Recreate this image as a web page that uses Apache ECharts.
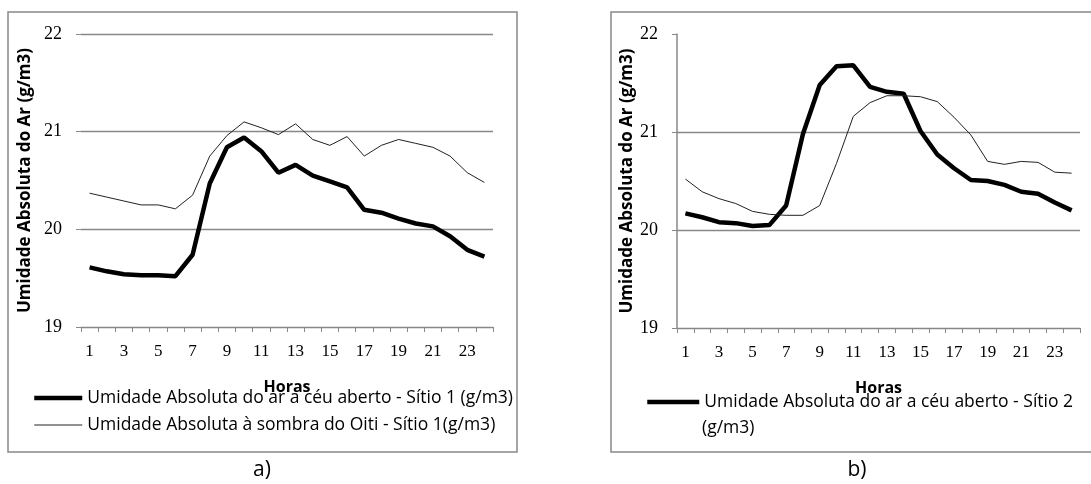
<!DOCTYPE html>
<html>
<head>
<meta charset="utf-8">
<script src="https://cdn.jsdelivr.net/npm/echarts@6/dist/echarts.min.js"></script>
<style>
  html, body { margin: 0; padding: 0; background: #fff; }
  #main { width: 1091px; height: 484px; }
</style>
</head>
<body>
<div id="main"></div>
<script>
// horas do dia
var horas = ['1', '2', '3', '4', '5', '6', '7', '8', '9', '10', '11', '12',
  '13', '14', '15', '16', '17', '18', '19', '20', '21', '22', '23', '24']

// a) Sitio 1
var nomeAberto1 = 'Umidade Absoluta do ar a céu aberto - Sítio 1 (g/m3)'
var nomeSombra1 = 'Umidade Absoluta à sombra do Oiti - Sítio 1(g/m3)'
var aberto1 = [19.61, 19.57, 19.54, 19.53, 19.53, 19.52, 19.74, 20.47, 20.84, 20.94, 20.80, 20.58,
  20.66, 20.55, 20.49, 20.43, 20.20, 20.17, 20.11, 20.06, 20.03, 19.93, 19.79, 19.72]
var sombra1 = [20.37, 20.33, 20.29, 20.25, 20.25, 20.21, 20.35, 20.75, 20.96, 21.10, 21.04, 20.97,
  21.08, 20.92, 20.86, 20.95, 20.75, 20.86, 20.92, 20.88, 20.84, 20.75, 20.58, 20.48]

// b) Sitio 2
var nomeAberto2 = 'Umidade Absoluta do ar a céu aberto - Sítio 2 (g/m3)'
var nomeSombra2 = 'Umidade Absoluta à sombra - Sítio 2 (g/m3)'
var aberto2 = [20.17, 20.13, 20.08, 20.07, 20.04, 20.05, 20.25, 20.98, 21.48, 21.67, 21.68, 21.46,
  21.41, 21.39, 21.01, 20.77, 20.63, 20.51, 20.50, 20.46, 20.39, 20.37, 20.28, 20.20]
var sombra2 = [20.52, 20.39, 20.32, 20.27, 20.19, 20.16, 20.15, 20.15, 20.25, 20.68, 21.16, 21.30,
  21.37, 21.37, 21.36, 21.31, 21.15, 20.97, 20.70, 20.67, 20.70, 20.69, 20.59, 20.58]

var tituloY = 'Umidade Absoluta do Ar (g/m3)'
var tituloX = 'Horas'
var unidade = '(g/m3)'

var cinza = '#888'
var fonteTexto = '"Open Sans", "Noto Sans", sans-serif'
var fonteNum = '"Liberation Serif", "DejaVu Serif", serif'

function eixoX(grid) {
  return {
    type: 'category',
    gridIndex: grid,
    data: horas,
    boundaryGap: true,
    name: tituloX,
    nameLocation: 'middle',
    nameGap: 52,
    nameTextStyle: { fontFamily: fonteTexto, fontWeight: 'bold', fontSize: 16, color: '#000' },
    axisLine: { lineStyle: { color: cinza, width: 1.2 } },
    axisTick: { show: true, interval: 0, length: 5, lineStyle: { color: cinza } },
    axisLabel: { interval: 1, margin: 16, fontFamily: fonteNum, fontSize: 17, color: '#000' },
    splitLine: { show: false }
  }
}

function eixoY(grid, comLinha, gap) {
  return {
    type: 'value',
    gridIndex: grid,
    min: 19,
    max: 22,
    interval: 1,
    name: tituloY,
    nameLocation: 'middle',
    nameRotate: 90,
    nameGap: gap,
    nameTextStyle: { fontFamily: fonteTexto, fontWeight: 'bold', fontSize: 17, color: '#000' },
    axisLine: { show: comLinha, lineStyle: { color: cinza, width: 1.5 } },
    axisTick: { show: true, length: 5, lineStyle: { color: cinza } },
    axisLabel: { margin: 19, fontFamily: fonteNum, fontSize: 18, color: '#000' },
    splitLine: { show: true, showMaxLine: !comLinha, lineStyle: { color: cinza, width: 1.3 } }
  }
}

function serie(nome, dados, grid, grossa) {
  return {
    name: nome,
    type: 'line',
    xAxisIndex: grid,
    yAxisIndex: grid,
    data: dados,
    symbol: 'none',
    silent: true,
    itemStyle: { color: '#000' },
    lineStyle: { color: grossa ? '#000' : '#222', width: grossa ? 4.5 : 1 }
  }
}

function itemLegenda(nome, grossa) {
  return {
    name: nome,
    itemStyle: { opacity: 0 },
    lineStyle: { width: grossa ? 4.5 : 1, color: grossa ? '#000' : '#222' }
  }
}

function setOption(chart) {
  const option = {
    animation: false,
    backgroundColor: '#fff',
    grid: [
      { left: 81, top: 34, width: 412, height: 293 },
      { left: 677, top: 34, width: 403, height: 294 }
    ],
    xAxis: [eixoX(0), eixoX(1)],
    yAxis: [eixoY(0, false, 47), eixoY(1, true, 40)],
    legend: [
      {
        orient: 'vertical',
        left: 32,
        top: 389,
        padding: 0,
        itemWidth: 48,
        itemHeight: 18,
        itemGap: 9,
        textStyle: { fontFamily: fonteTexto, fontSize: 17.5, color: '#000', lineHeight: 18 },
        data: [itemLegenda(nomeAberto1, true), itemLegenda(nomeSombra1, false)]
      },
      {
        orient: 'vertical',
        left: 645,
        top: 393,
        padding: 0,
        itemWidth: 52,
        itemHeight: 18,
        // a unidade vai na linha de baixo, como no original
        formatter: function (name) {
          return name.replace(' ' + unidade, '')
        },
        textStyle: { fontFamily: fonteTexto, fontSize: 17.5, color: '#000', lineHeight: 18 },
        data: [itemLegenda(nomeAberto2, true)]
      }
    ],
    graphic: [
      { type: 'rect', shape: { x: 8, y: 12, width: 509, height: 440 }, style: { fill: 'none', stroke: cinza, lineWidth: 1.5 }, silent: true },
      { type: 'rect', shape: { x: 611, y: 12, width: 509, height: 440 }, style: { fill: 'none', stroke: cinza, lineWidth: 1.5 }, silent: true },
      { type: 'text', x: 702, y: 428, style: { text: unidade, font: '17.5px ' + fonteTexto, fill: '#000', align: 'left', verticalAlign: 'middle' } },
      { type: 'text', x: 262, y: 470, style: { text: 'a)', font: '21px ' + fonteTexto, fill: '#000', align: 'center', verticalAlign: 'middle' } },
      { type: 'text', x: 857, y: 470, style: { text: 'b)', font: '21px ' + fonteTexto, fill: '#000', align: 'center', verticalAlign: 'middle' } }
    ],
    series: [
      serie(nomeAberto1, aberto1, 0, true),
      serie(nomeSombra1, sombra1, 0, false),
      serie(nomeAberto2, aberto2, 1, true),
      serie(nomeSombra2, sombra2, 1, false)
    ]
  }
  chart.setOption(option)
}

var chart = echarts.init(document.getElementById('main'), null, { renderer: 'canvas' })
setOption(chart)
</script>
</body>
</html>
